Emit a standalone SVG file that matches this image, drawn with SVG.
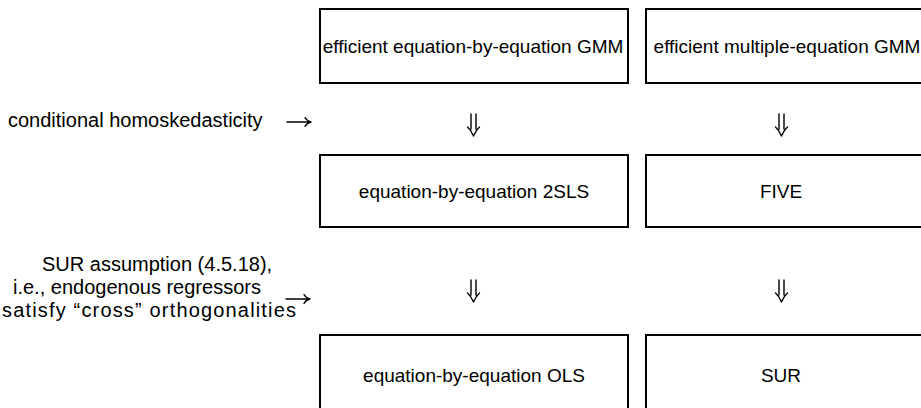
<svg xmlns="http://www.w3.org/2000/svg" width="921" height="408" viewBox="0 0 921 408">
<style>
.box{fill:#fff;stroke:#000;stroke-width:2}
.t{font-family:"Liberation Sans",Arial,Helvetica,sans-serif;font-size:19px;fill:#000;text-anchor:middle}
.l{font-family:"Liberation Sans",Arial,Helvetica,sans-serif;font-size:20px;fill:#000}
.c{fill:none;stroke:#000;stroke-width:1.4;stroke-linecap:round;stroke-linejoin:round}
</style>
<rect width="921" height="408" fill="#fff"/>
<g id="n-eq-gmm"><rect class="box" x="320" y="9" width="308" height="74"/><text class="t" x="473" y="53">efficient equation-by-equation GMM</text></g>
<g id="n-multi-gmm"><rect class="box" x="646" y="9" width="300" height="74"/><text class="t" x="787" y="53">efficient multiple-equation GMM</text></g>
<g id="n-2sls"><rect class="box" x="320" y="155" width="308" height="72"/><text class="t" x="474" y="198">equation-by-equation 2SLS</text></g>
<g id="n-five"><rect class="box" x="646" y="155" width="300" height="72"/><text class="t" x="781" y="198">FIVE</text></g>
<g id="n-ols"><rect class="box" x="320" y="335" width="308" height="90"/><text class="t" x="474" y="382">equation-by-equation OLS</text></g>
<g id="n-sur"><rect class="box" x="646" y="335" width="300" height="90"/><text class="t" x="781" y="382">SUR</text></g>
<g id="labels">
<text class="l" x="8" y="127">conditional homoskedasticity</text>
<text class="l" x="42" y="271">SUR assumption (4.5.18),</text>
<text class="l" x="13" y="294">i.e., endogenous regressors</text>
<text class="l" x="2" y="317" textLength="294" lengthAdjust="spacing">satisfy “cross” orthogonalities</text>
</g>
<g id="connectors">
<path class="c" d="M287 122H311M305 117.5Q307 121 311 122Q307 123 305 126.5"/>
<path class="c" d="M286 299H310M304 294.5Q306 298 310 299Q306 300 304 303.5"/>
<path class="c" d="M471 114V129M476 114V129M467.5 127Q471 130 473.5 136Q476 130 479.5 127"/>
<path class="c" d="M779 114V129M784 114V129M775.5 127Q779 130 781.5 136Q784 130 787.5 127"/>
<path class="c" d="M471 280V295M476 280V295M467.5 293Q471 296 473.5 302Q476 296 479.5 293"/>
<path class="c" d="M779 280V295M784 280V295M775.5 293Q779 296 781.5 302Q784 296 787.5 293"/>
</g>
</svg>
